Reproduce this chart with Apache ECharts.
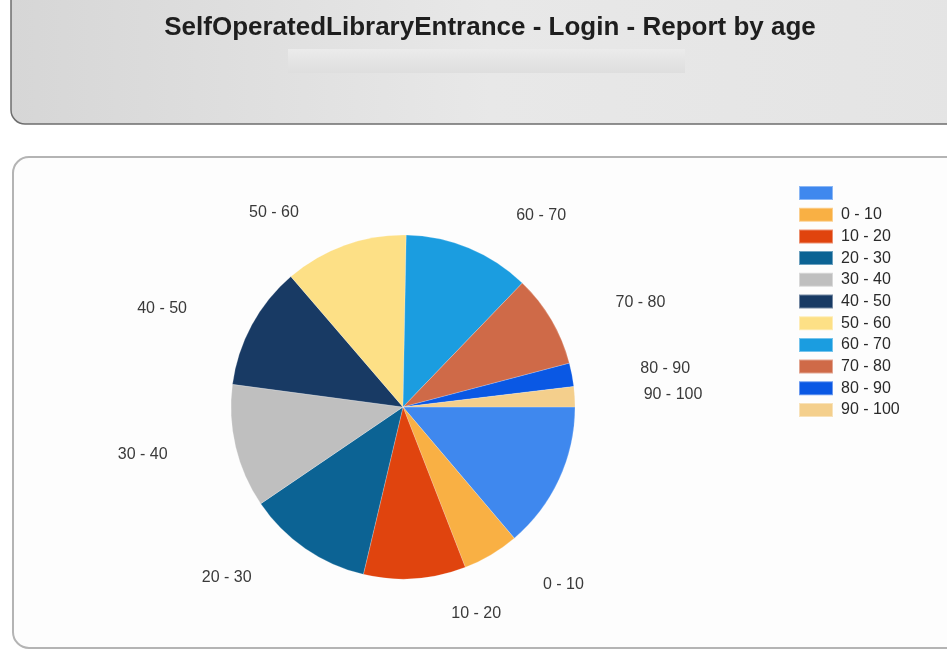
<!DOCTYPE html>
<html>
<head>
<meta charset="utf-8">
<script src="https://cdn.jsdelivr.net/npm/echarts@6/dist/echarts.min.js"></script>
<style>
html,body{margin:0;padding:0;background:#ffffff;}
#c{width:947px;height:651px;}
</style>
</head>
<body>
<div id="c"></div>
<script>
const titleText = 'SelfOperatedLibraryEntrance - Login - Report by age';
const categories = [' ', '0 - 10', '10 - 20', '20 - 30', '30 - 40', '40 - 50', '50 - 60', '60 - 70', '70 - 80', '80 - 90', '90 - 100'];
const values = [138, 53, 96, 118, 116, 116, 116, 119, 87, 22, 19];
const colors = ['#3f88ee', '#f9b044', '#e0440e', '#0c6394', '#bfbfbf', '#183a64', '#fde086', '#1b9de0', '#cf6a48', '#0a58e4', '#f4cf8c'];

const chart = echarts.init(document.getElementById('c'));
const pieData = categories.map((n, i) => ({ name: n, value: values[i], itemStyle: { color: colors[i] } }));
const FONT = 'Liberation Sans, Arial, sans-serif';

chart.setOption({
  animation: false,
  backgroundColor: '#ffffff',
  graphic: [
    { type: 'rect', z: 0, shape: { x: 11, y: -30, width: 960, height: 154, r: 14 },
      style: { fill: new echarts.graphic.LinearGradient(0, 0, 1, 0, [
        { offset: 0, color: '#d6d6d6' }, { offset: 0.5, color: '#e8e8e8' }, { offset: 1, color: '#e4e4e4' }]),
        stroke: '#6e6e6e', lineWidth: 1.5 } },
    { type: 'rect', z: 1, shape: { x: 288, y: 49, width: 397, height: 24 },
      style: { fill: new echarts.graphic.LinearGradient(0, 0, 0, 1, [
        { offset: 0, color: '#ebebeb' }, { offset: 1, color: '#dedede' }]) } },
    { type: 'rect', z: 0, shape: { x: 13, y: 157, width: 960, height: 491, r: 16 },
      style: { fill: '#fdfdfd', stroke: '#b4b4b4', lineWidth: 2 } }
  ],
  title: {
    text: titleText, left: 485, top: 10, textAlign: 'center',
    textStyle: { fontFamily: FONT, fontSize: 26, fontWeight: 'bold', color: '#1e1e1e' }
  },
  legend: {
    orient: 'vertical', left: 793, top: 180,
    itemWidth: 34, itemHeight: 14, itemGap: 5.7, icon: 'rect',
    data: categories,
    textStyle: { fontFamily: FONT, fontSize: 16, color: '#2a2a2a', padding: [0, 0, 0, 3] },
    selectedMode: false
  },
  series: [{
    type: 'pie',
    center: [403, 407], radius: 172,
    startAngle: 0, clockwise: true,
    data: pieData,
    itemStyle: { borderColor: 'rgba(255,255,255,0.4)', borderWidth: 0.5 },
    label: { show: true, position: 'outside', fontFamily: FONT, fontSize: 16, color: '#3a3a3a' },
    labelLine: { show: false, length: 35, length2: 29 },
    avoidLabelOverlap: true,
    emphasis: { disabled: true }
  }]
});
</script>
</body>
</html>
